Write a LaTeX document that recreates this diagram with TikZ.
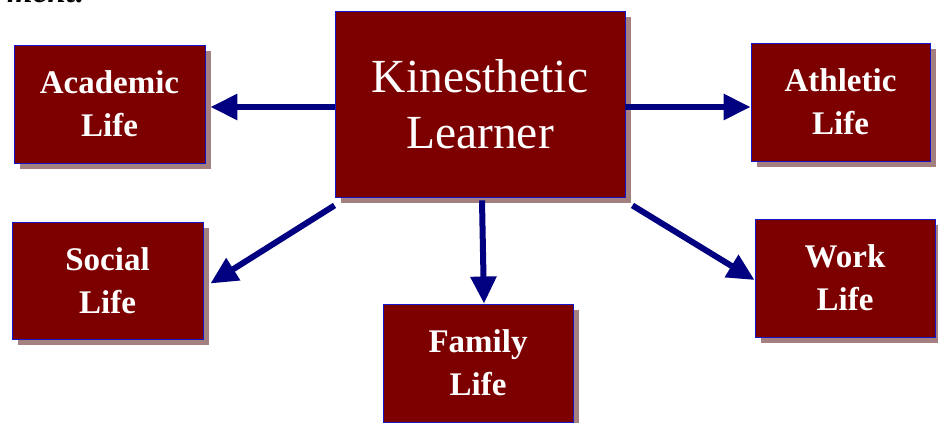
\documentclass[tikz,border=0pt]{standalone}
\usepackage{fontspec}
\setmainfont{Liberation Serif}
\usetikzlibrary{arrows.meta}
\usetikzlibrary{shadows}

\definecolor{boxred}{RGB}{125,0,0}
\definecolor{boxline}{RGB}{20,20,200}
\definecolor{boxshade}{RGB}{165,128,128}
\definecolor{arrowblue}{RGB}{0,0,128}

\tikzset{
	lifebox/.style={draw=boxline, line width=0.9pt, fill=boxred, text=white,
		align=center, inner sep=0pt,
		drop shadow={shadow xshift=6pt, shadow yshift=-6pt, fill=boxshade, opacity=1},
		font=\rmfamily\bfseries\fontsize{33}{43}\selectfont},
	linkarrow/.style={draw=arrowblue, line width=6pt,
		-{Triangle[length=27pt,width=25pt]}}
}

\begin{document}
\begin{tikzpicture}[x=1pt,y=-1pt]

		\clip (0,0) rectangle (938,423);
		\fill [white] (0,0) rectangle (938,423);
		
		% cut-off heading line
		\node [anchor=base west, inner sep=0pt, font=\rmfamily\bfseries\itshape\fontsize{33}{40}\selectfont] (heading) at (7,2) {ment:};
		
		\node [lifebox, minimum width=290pt, minimum height=186pt, font=\rmfamily\fontsize{47.5}{56}\selectfont] (learner) at (480,104) {Kinesthetic\\Learner};
		
		\node [lifebox, minimum width=191pt, minimum height=118pt] (academic) at (109.5,104) {Academic\\Life};
		\node [lifebox, minimum width=179pt, minimum height=118pt] (athletic) at (840.5,102) {Athletic\\Life};
		\node [lifebox, minimum width=191pt, minimum height=117pt] (social) at (107.5,280.5) {Social\\Life};
		\node [lifebox, minimum width=190pt, minimum height=118pt] (family) at (478,363) {Family\\Life};
		\node [lifebox, minimum width=180pt, minimum height=118pt] (work) at (845,278) {Work\\Life};
		
		\draw [linkarrow] ([yshift=-3pt]learner.west) -- ([shift={(5pt,-3pt)}]learner.west -| academic.east);
		\draw [linkarrow] ([yshift=-3pt]learner.east) -- ([yshift=-3pt]learner.east -| athletic.west);
		\draw [linkarrow] ([yshift=-8pt]learner.south west) -- ([shift={(7pt,-3pt)}]social.east);
		\draw [linkarrow] ([shift={(2pt,-3pt)}]learner.south) -- ([xshift=4pt]learner.south |- family.north);
		\draw [linkarrow] ([shift={(7pt,-8pt)}]learner.south east) -- ([yshift=-2pt]work.west);
		
\end{tikzpicture}
\end{document}
